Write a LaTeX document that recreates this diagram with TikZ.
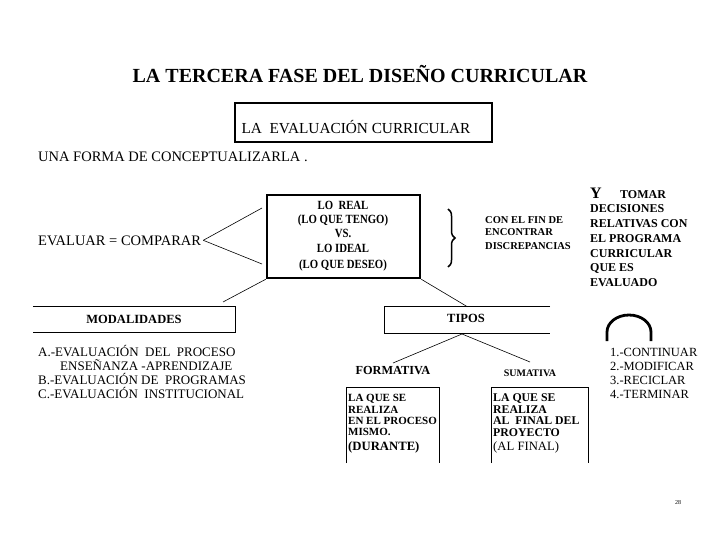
\documentclass[tikz,border=0pt]{standalone}
\usepackage{fontspec}
\setmainfont{Liberation Serif}
\usetikzlibrary{decorations.pathreplacing}
\begin{document}
\begin{tikzpicture}[x=1pt,y=-1pt,
  txt/.style={inner sep=0pt, anchor=base west, font=\fontsize{13}{15}\selectfont},
  btxt/.style={inner sep=0pt, anchor=base west, font=\bfseries\fontsize{11}{12}\selectfont},
  rtxt/.style={inner sep=0pt, anchor=base west, font=\bfseries\fontsize{12}{14}\selectfont},
  ctr/.style={inner sep=0pt, anchor=base, font=\bfseries\fontsize{12.5}{14}\selectfont\addfontfeature{FakeStretch=0.86}},
  conn/.style={line width=0.6pt},
  thinbox/.style={line width=1pt},
  thickbox/.style={draw, line width=2.4pt, inner sep=0pt}]
\useasboundingbox[fill=white] (0,0) rectangle (720,540);

% title
\node[inner sep=0pt, font=\bfseries\fontsize{20}{23}\selectfont] (title) at (360,74) {LA TERCERA FASE DEL DISEÑO CURRICULAR};

% subtitle box
\node[thickbox, line width=2.2pt, minimum width=257, minimum height=39] (sub) at (363.5,122.5) {};
\node[inner sep=0pt, font=\fontsize{15.3}{17}\selectfont] (subt) at (356,127) {LA\ \ EVALUACIÓN CURRICULAR};

\node[txt, font=\fontsize{14.5}{16}\selectfont] (forma) at (38,162) {UNA FORMA DE CONCEPTUALIZARLA .};

% evaluar
\node[txt, font=\fontsize{14.5}{16}\selectfont] (eval) at (38,245) {EVALUAR = COMPARAR};
\coordinate (e1) at (262,208);
\coordinate (e2) at (262,264);
\draw[conn] ([xshift=2pt]eval.east) -- (e1);
\draw[conn] ([xshift=2pt]eval.east) -- (e2);

% main box
\node[thickbox, line width=2.5pt, minimum width=153, minimum height=83] (real) at (343.5,236.5) {};
\node[ctr] (r1) at (343,209.5) {LO\ \ REAL};
\node[ctr] (r2) at (343,223.5) {(LO QUE TENGO)};
\node[ctr] (r3) at (343,237.5) {VS.};
\node[ctr] (r4) at (343,252) {LO IDEAL};
\node[ctr] (r5) at (343,268) {(LO QUE DESEO)};

% brace
\draw[line width=1.5pt, decorate, decoration={brace, amplitude=7pt}] (448,209) -- (448,267);
\node[btxt, font=\bfseries\fontsize{10.5}{12}\selectfont] (c1) at (485,223) {CON EL FIN DE};
\node[btxt, font=\bfseries\fontsize{10.5}{12}\selectfont] (c2) at (485,236) {ENCONTRAR};
\node[btxt, font=\bfseries\fontsize{10.5}{12}\selectfont] (c3) at (485,249) {DISCREPANCIAS};

% right text
\node[rtxt, font=\bfseries\fontsize{16}{17}\selectfont] (y) at (590,199) {Y};
\node[rtxt] (tomar) at (620,199) {TOMAR};
\node[rtxt] (d2) at (590,212) {DECISIONES};
\node[rtxt] (d3) at (590,227) {RELATIVAS CON};
\node[rtxt] (d4) at (590,242) {EL PROGRAMA};
\node[rtxt] (d5) at (590,257) {CURRICULAR};
\node[rtxt] (d6) at (590,271) {QUE ES};
\node[rtxt] (d7) at (590,286) {EVALUADO};

% modalidades
\node[inner sep=0pt, minimum width=202, minimum height=25] (mod) at (134,319.5) {};
\draw[thinbox] (mod.north west) -- (mod.north east) -- (mod.south east) -- (mod.south west);
\node[ctr, font=\bfseries\fontsize{12.5}{14}\selectfont] (modt) at (134,323) {MODALIDADES};
\coordinate (m1) at (223,302);
\draw[conn] (real.south west) -- (m1);

\node[txt] (a1) at (38,356) {A.-EVALUACIÓN\ \ DEL\ \ PROCESO};
\node[txt] (a2) at (60,370) {ENSEÑANZA -APRENDIZAJE};
\node[txt] (a3) at (38,384) {B.-EVALUACIÓN DE\ \ PROGRAMAS};
\node[txt] (a4) at (38,398) {C.-EVALUACIÓN\ \ INSTITUCIONAL};

% tipos
\node[inner sep=0pt, minimum width=165, minimum height=26] (tipos) at (467.5,320) {};
\draw[thinbox] (tipos.north east) -- (tipos.north west) -- (tipos.south west) -- (tipos.south east);
\node[ctr, font=\bfseries\fontsize{12.5}{14}\selectfont] (tipost) at (466,322) {TIPOS};
\draw[conn] (real.south east) -- (tipos.north);

\node[ctr, font=\bfseries\fontsize{12.3}{14}\selectfont] (formlab) at (393,374) {FORMATIVA};
\node[ctr, font=\bfseries\fontsize{10}{12}\selectfont] (sumlab) at (530,376) {SUMATIVA};
\coordinate (t0) at (462,334);
\coordinate (f0) at (393,363);
\coordinate (s0) at (530,362);
\draw[conn] (t0) -- (f0);
\draw[conn] (t0) -- (s0);

% formativa box
\node[inner sep=0pt, minimum width=92, minimum height=75] (fbox) at (393,425.5) {};
\draw[thinbox] (fbox.south west) -- (fbox.north west) -- (fbox.north east) -- (fbox.south east);
\node[btxt] (f1) at (348,401) {LA QUE SE};
\node[btxt] (f2) at (348,413) {REALIZA};
\node[btxt] (f3) at (348,424) {EN EL PROCESO};
\node[btxt] (f4) at (348,435) {MISMO.};
\node[btxt, font=\bfseries\fontsize{12.7}{14}\selectfont] (f5) at (348,450) {(DURANTE)};

% sumativa box
\node[inner sep=0pt, minimum width=96, minimum height=75] (sbox) at (540,425.5) {};
\draw[thinbox] (sbox.south west) -- (sbox.north west) -- (sbox.north east) -- (sbox.south east);
\node[btxt, font=\bfseries\fontsize{11.8}{12}\selectfont] (s1) at (493,401) {LA QUE SE};
\node[btxt, font=\bfseries\fontsize{11.8}{12}\selectfont] (s2) at (493,413) {REALIZA};
\node[btxt, font=\bfseries\fontsize{11.8}{12}\selectfont] (s3) at (493,424.5) {AL\ \ FINAL DEL};
\node[btxt, font=\bfseries\fontsize{11.8}{12}\selectfont] (s4) at (493,436) {PROYECTO};
\node[txt, font=\fontsize{12.7}{14}\selectfont] (s5) at (493,450) {(AL FINAL)};

% arch
\draw[line width=2.8pt] (607,341) -- (607,332) arc[start angle=180, end angle=360, x radius=22, y radius=17] -- (651,341);

\node[txt, font=\fontsize{12.5}{14}\selectfont] (n1) at (610,356) {1.-CONTINUAR};
\node[txt, font=\fontsize{12.5}{14}\selectfont] (n2) at (610,370) {2.-MODIFICAR};
\node[txt, font=\fontsize{12.5}{14}\selectfont] (n3) at (610,384) {3.-RECICLAR};
\node[txt, font=\fontsize{12.5}{14}\selectfont] (n4) at (610,398) {4.-TERMINAR};

\node[inner sep=0pt, font=\fontsize{6}{7}\selectfont] (pg) at (678,503) {28};
\end{tikzpicture}
\end{document}
